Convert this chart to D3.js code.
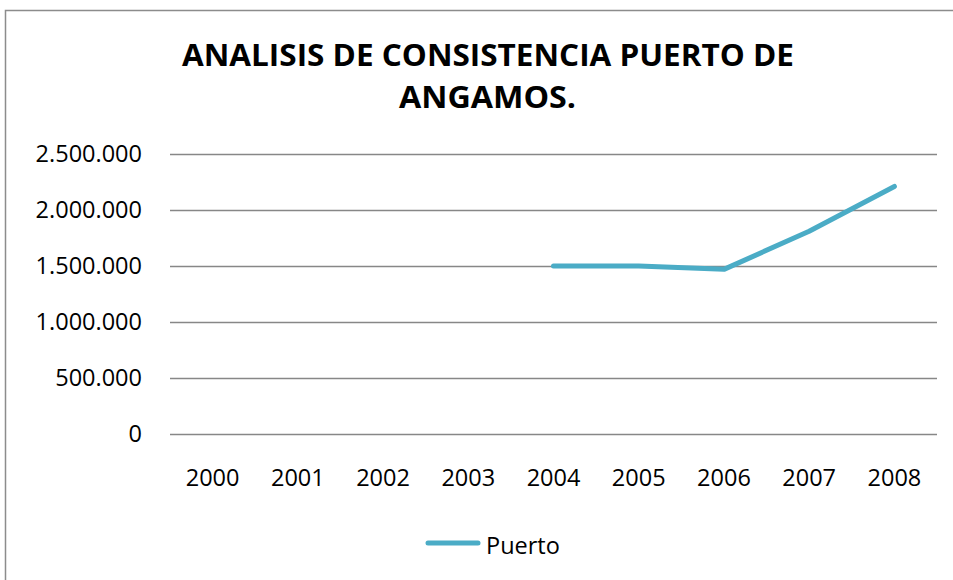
<!DOCTYPE html>
<html>
<head>
<meta charset="utf-8">
<script src="https://cdn.jsdelivr.net/npm/d3@7"></script>
<style>
  body { margin: 0; background: #fff; }
  svg { display: block; }
</style>
</head>
<body>
<svg id="chart"></svg>
<script>
// ---------------- data ----------------
var years = ['2000', '2001', '2002', '2003', '2004', '2005', '2006', '2007', '2008'];
var puerto = [null, null, null, null, 1500000, 1500000, 1470000, 1810000, 2210000];
var yTicks = [0, 500000, 1000000, 1500000, 2000000, 2500000];
var titleLines = ['ANALISIS DE CONSISTENCIA PUERTO DE', 'ANGAMOS.'];
var seriesName = 'Puerto';

// ---------------- layout ----------------
var width = 953, height = 580;
var plot = { left: 170, right: 937, top: 154, bottom: 434 };
var lineColor = '#4bacc6';
var font = '"Open Sans", Lato, sans-serif';

var svg = d3.select('#chart')
  .attr('width', width)
  .attr('height', height);

// outer border
svg.append('rect')
  .attr('x', 5.5).attr('y', 10.5)
  .attr('width', 960).attr('height', 600)
  .attr('fill', 'none')
  .attr('stroke', '#8c8c8c')
  .attr('stroke-width', 1.5);

// title (two centred lines, squeezed to the narrow bold face of the original)
svg.selectAll('.title')
  .data(titleLines)
  .enter()
  .append('text')
    .attr('class', 'title')
    .attr('x', (d, i) => i === 0 ? 182 : 399)
    .attr('y', (d, i) => 65.5 + i * 42.5)
    .attr('textLength', (d, i) => i === 0 ? 612 : 177)
    .attr('lengthAdjust', 'spacingAndGlyphs')
    .attr('font-family', font)
    .attr('font-weight', 'bold')
    .attr('font-size', 29.5)
    .attr('fill', '#000')
    .text(d => d);

// scales
var xScale = d3.scaleBand()
  .domain(years)
  .range([plot.left, plot.right]);

var yScale = d3.scaleLinear()
  .domain([0, 2500000])
  .range([plot.bottom, plot.top]);

var fmt = d => d3.format(',')(d).replace(/,/g, '.');

// gridlines + y labels
var yAxis = svg.append('g')
  .attr('transform', `translate(${plot.left}, 0)`)
  .call(d3.axisLeft(yScale)
    .tickValues(yTicks)
    .tickSize(-(plot.right - plot.left))
    .tickPadding(28)
    .tickFormat(fmt));

yAxis.select('.domain').remove();
yAxis.selectAll('line')
  .attr('stroke', '#878787')
  .attr('stroke-width', 1.5);
yAxis.selectAll('text')
  .attr('font-family', font)
  .attr('font-size', 23.5)
  .attr('fill', '#000');

// x labels
var xAxis = svg.append('g')
  .attr('transform', `translate(0, ${plot.bottom})`)
  .call(d3.axisBottom(xScale).tickSize(0).tickPadding(35));

xAxis.select('.domain').remove();
xAxis.selectAll('text')
  .attr('font-family', font)
  .attr('font-size', 23.5)
  .attr('fill', '#000');

// series line
var line = d3.line()
  .defined(d => d.v !== null)
  .x(d => xScale(d.year) + xScale.bandwidth() / 2)
  .y(d => yScale(d.v));

var points = years.map((y, i) => ({ year: y, v: puerto[i] }));

svg.append('path')
  .datum(points)
  .attr('d', line)
  .attr('fill', 'none')
  .attr('stroke', lineColor)
  .attr('stroke-width', 5)
  .attr('stroke-linecap', 'round')
  .attr('stroke-linejoin', 'round');

// legend
var legend = svg.append('g').attr('transform', 'translate(426, 543)');
legend.append('line')
  .attr('x1', 2).attr('x2', 52)
  .attr('y1', 0).attr('y2', 0)
  .attr('stroke', lineColor)
  .attr('stroke-width', 5)
  .attr('stroke-linecap', 'round');
legend.append('text')
  .attr('x', 60).attr('y', 11)
  .attr('font-family', font)
  .attr('font-size', 23.5)
  .attr('fill', '#000')
  .text(seriesName);
</script>
</body>
</html>
